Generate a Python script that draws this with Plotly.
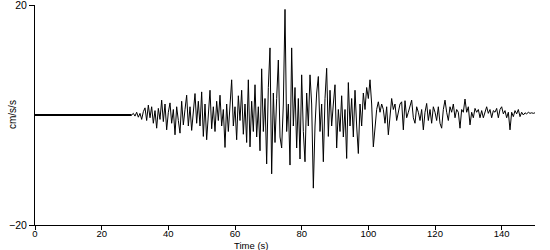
import numpy as np
import plotly.graph_objects as go

# Quiet pre-event segment (s, cm/s/s)
quiet_t = [0.0, 29.0]
quiet_v = [0.0, 0.0]

# Strong-motion record sampled every 0.5 s from 29.0 s
t0 = 29.0
dt = 0.5
accel = [
    0.0, 0.3, -0.2, 0.5, -0.4, 0.3, -0.8, 0.6, 1.3, -1.0,
    1.8, -0.5, 1.5, -1.5, 0.8, -2.4, 1.2, -0.8, 2.7, -1.2,
    2.0, -2.7, 0.5, 2.2, -1.5, 1.0, -3.6, 1.5, -1.0, -3.3,
    2.5, -1.8, 1.0, 3.6, -2.0, 1.5, -2.8, 0.8, 3.9, -1.5,
    2.5, -2.0, 4.2, -3.9, 2.0, -4.5, 1.0, 4.5, -2.5, 1.5,
    -3.0, 2.5, -1.0, 3.6, -2.0, 1.0, -5.9, 2.0, -3.0, 3.0,
    6.4, -2.0, 1.5, -4.5, 3.5, -1.0, 4.5, -3.5, 2.0, -5.0,
    6.4, -5.8, 2.5, -3.0, 5.5, -4.0, 1.5, -6.5, 8.4, -3.0,
    3.0, -8.9, 5.0, 12.2, -10.7, 4.0, -5.0, 3.0, 10.0, -4.0,
    -6.0, 2.0, 19.2, -3.0, 2.0, -9.1, 12.2, -2.0, 5.0, -6.0,
    3.0, -8.0, 7.3, -3.0, -8.5, 4.0, -2.0, 7.3, 2.0, -13.3,
    -2.0, 4.0, 7.0, -3.0, 2.0, -8.5, 3.0, 8.5, -3.9, 4.5,
    -2.0, 2.0, 5.5, -6.0, 1.0, -3.0, 3.5, -4.0, 1.0, -7.9,
    5.9, -2.0, 3.0, -4.0, 4.5, -2.0, -7.0, 2.0, -2.0, 4.0,
    1.0, 5.0, 3.0, 6.4, 2.0, -5.8, -1.5, 1.0, 2.4, 0.5,
    2.0, 1.0, -1.5, 1.5, -3.6, 0.5, 3.0, 1.0, 2.0, -1.0,
    0.5, 2.0, 2.4, -2.7, 2.6, -0.5, 0.5, 1.5, 2.7, -0.5,
    -1.5, 1.5, 0.5, -1.0, 1.0, -2.7, 0.5, 2.1, -1.0, 1.0,
    -1.5, 1.5, 0.5, -1.0, 1.5, -1.5, -2.4, 1.0, 2.7, 0.5,
    -1.0, 1.5, 0.5, 2.0, -0.5, 1.0, 0.5, -2.4, 1.0, 0.5,
    2.9, 0.5, 1.5, -1.8, 0.5, -0.5, 1.2, 0.5, 1.0, -0.5,
    0.8, -0.5, 0.5, 1.5, 0.3, 1.0, -0.5, 0.8, 0.5, 1.2,
    -0.5, 1.0, 1.5, 0.2, 0.8, -0.5, 0.5, -2.7, 0.5, -0.3,
    0.8, 0.2, 1.0, -0.3, 0.5, 0.0, 0.4, 0.2, 0.5, 0.3,
    0.4, 0.3, 0.4,
]
times = t0 + dt * np.arange(len(accel))

x_ticks = [0, 20, 40, 60, 80, 100, 120, 140]
y_ticks = [-20, 20]
x_title = "Time (s)"
y_title = "cm/s/s"

fig = go.Figure()
fig.add_trace(go.Scatter(x=quiet_t, y=quiet_v, mode="lines",
                         line=dict(color="black", width=2), hoverinfo="skip"))
fig.add_trace(go.Scatter(x=times, y=accel, mode="lines",
                         line=dict(color="black", width=1)))

fig.update_layout(
    width=550, height=250,
    margin=dict(l=35, r=15, t=5, b=25, autoexpand=False),
    paper_bgcolor="white", plot_bgcolor="white",
    showlegend=False,
    font=dict(family="Liberation Sans, Arial, sans-serif", size=10, color="black"),
    xaxis=dict(range=[0, 150], tickvals=x_ticks, ticks="outside", ticklen=4,
               tickcolor="black", showline=True, linecolor="black", linewidth=1,
               showgrid=False, zeroline=False, automargin=False,
               ticklabeloverflow="allow", ticklabelstandoff=-4,
               tickfont=dict(size=9.5)),
    yaxis=dict(range=[-20, 20], tickvals=y_ticks, ticks="outside", ticklen=5,
               tickcolor="black", showline=True, linecolor="black", linewidth=1,
               showgrid=False, zeroline=False, automargin=False,
               ticklabeloverflow="allow", tickfont=dict(size=10.5)),
    annotations=[
        dict(text=x_title, xref="paper", yref="paper", x=0.432, y=-0.093,
             xanchor="center", yanchor="middle", showarrow=False,
             font=dict(size=9.5)),
        dict(text=y_title, xref="paper", yref="paper", x=-0.046, y=0.5,
             xanchor="center", yanchor="middle", showarrow=False,
             textangle=-90, font=dict(size=10)),
    ],
)

fig.write_html("out.html")
